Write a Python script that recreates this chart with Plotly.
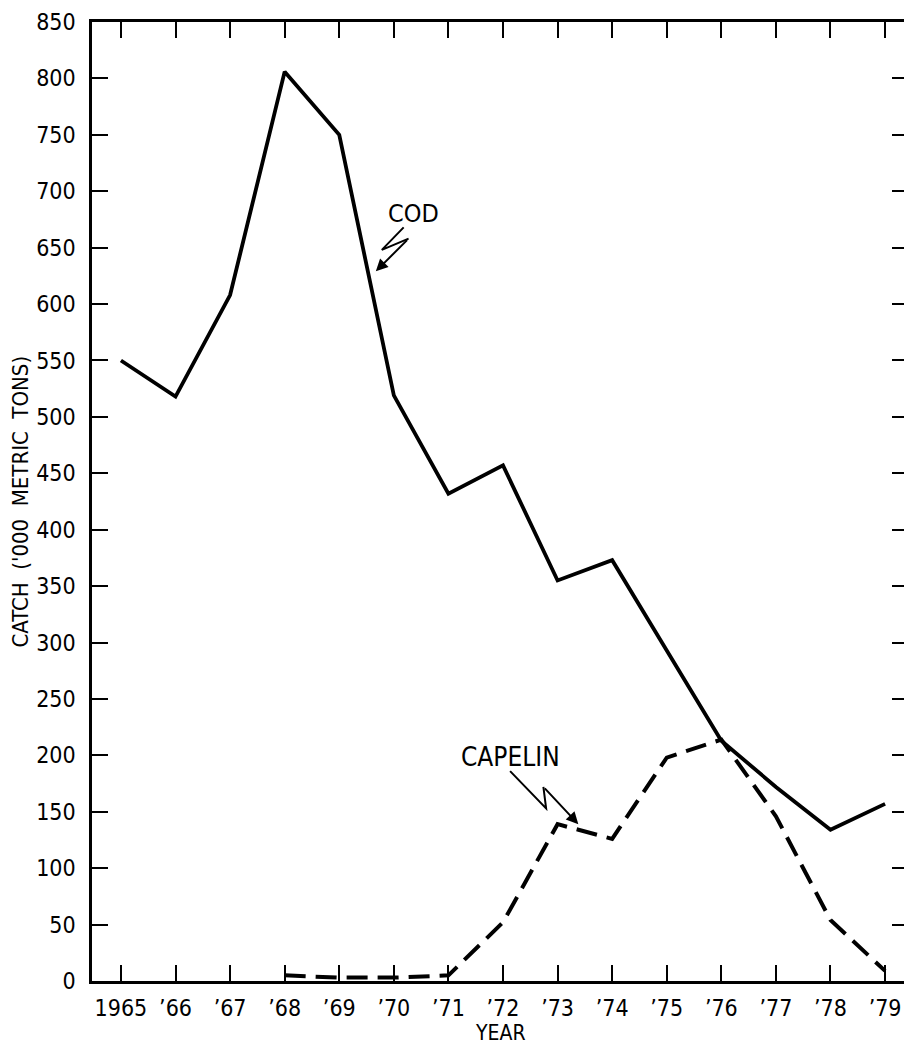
import plotly.graph_objects as go

# ---- data ----
years_cod = [1965, 1966, 1967, 1968, 1969, 1970, 1971, 1972, 1973, 1974, 1975, 1976, 1977, 1978, 1979]
cod = [550, 518, 608, 806, 750, 519, 432, 457, 355, 373, 293, 213, 172, 134, 157]

years_capelin = [1968, 1969, 1970, 1971, 1972, 1973, 1974, 1975, 1976, 1977, 1978, 1979]
capelin = [5, 3, 3, 5, 52, 139, 126, 198, 214, 146, 54, 9]

tick_years = list(range(1965, 1980))
tick_labels = ["1965", "’66", "’67", "’68", "’69", "’70", "’71", "’72", "’73", "’74",
               "’75", "’76", "’77", "’78", "’79"]
y_ticks = list(range(0, 851, 50))

FONT = "Liberation Sans Narrow, DejaVu Sans Condensed, Arial Narrow, sans-serif"

fig = go.Figure()
fig.add_trace(go.Scatter(x=years_cod, y=cod, mode="lines", name="Cod",
                         line=dict(color="black", width=3.8)))
fig.add_trace(go.Scatter(x=years_capelin, y=capelin, mode="lines", name="Capelin",
                         line=dict(color="black", width=4, dash="21px,10px")))

# labels with zig-zag arrows
fig.add_annotation(x=1970.36, y=680, text="COD", showarrow=False,
                   font=dict(family=FONT, size=25, color="black"))
fig.add_shape(type="path", xref="x", yref="y",
              path="M 1970.18,668 L 1969.78,648 L 1970.27,658",
              line=dict(color="black", width=2))
fig.add_annotation(x=1969.67, y=629, ax=1970.27, ay=658, axref="x", ayref="y",
                   text="", showarrow=True, arrowhead=2, arrowsize=1.2,
                   arrowwidth=2, arrowcolor="black")

fig.add_annotation(x=1972.13, y=198.5, text="CAPELIN", showarrow=False,
                   font=dict(family=FONT, size=26, color="black"))
fig.add_shape(type="path", xref="x", yref="y",
              path="M 1972.13,186 L 1972.79,153 L 1972.74,172",
              line=dict(color="black", width=2))
fig.add_annotation(x=1973.38, y=139, ax=1972.74, ay=172, axref="x", ayref="y",
                   text="", showarrow=True, arrowhead=2, arrowsize=1.2,
                   arrowwidth=2, arrowcolor="black")

# axis titles placed as annotations for exact positioning
fig.add_annotation(xref="paper", yref="paper", x=0.5, y=0, yshift=-52,
                   xanchor="center", yanchor="middle", showarrow=False,
                   text="YEAR", font=dict(family=FONT, size=21, color="black"))
fig.add_annotation(xref="paper", yref="paper", x=0, y=0.5, xshift=-72,
                   xanchor="center", yanchor="middle", showarrow=False, textangle=-90,
                   text="CATCH  ('000  METRIC  TONS)",
                   font=dict(family=FONT, size=22, color="black"))

# page body has an 8px default margin, so the figure is sized to fill the rest
fig.update_layout(
    width=904, height=1038,
    margin=dict(l=84, r=1, t=11, b=65),
    paper_bgcolor="white", plot_bgcolor="white",
    showlegend=False,
    font=dict(family=FONT, size=23, color="black"),
)
fig.update_xaxes(
    range=[1964.47, 1979.42],
    tickmode="array", tickvals=tick_years, ticktext=tick_labels,
    ticks="inside", ticklen=16, tickwidth=2, tickcolor="black",
    showline=True, linecolor="black", linewidth=2.5, mirror="ticks",
    showgrid=False, zeroline=False, ticklabelstandoff=5,
    tickfont=dict(family=FONT, size=23),
)
fig.update_yaxes(
    range=[0, 850],
    tickmode="array", tickvals=y_ticks,
    ticks="inside", ticklen=16, tickwidth=2, tickcolor="black",
    showline=True, linecolor="black", linewidth=2.5, mirror="ticks",
    showgrid=False, zeroline=False, ticklabelstandoff=9,
    ticklabeloverflow="allow",
    tickfont=dict(family=FONT, size=23),
)

fig.write_html("out.html")
